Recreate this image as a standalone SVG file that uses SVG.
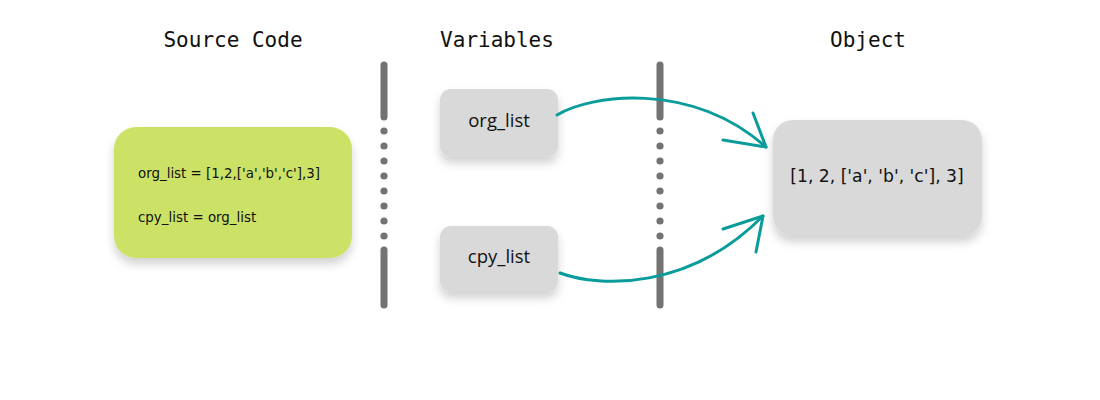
<svg xmlns="http://www.w3.org/2000/svg" width="1100" height="400" viewBox="0 0 1100 400">
<defs>
<filter id="sh" x="-20%" y="-20%" width="140%" height="160%">
<feDropShadow dx="0" dy="6" stdDeviation="5" flood-color="#000" flood-opacity="0.18"/>
</filter>
<style>
.hdr{font-family:"DejaVu Sans Mono","Liberation Mono",monospace;font-size:21px;fill:#111;text-anchor:middle}
.sep{stroke:#737373;stroke-width:7;stroke-linecap:round}
.dot{fill:#737373}
.gbox{fill:#d9d9d9}
.lbl{font-family:"Open Sans","Noto Sans",sans-serif;font-size:18.5px;fill:#111;text-anchor:middle}
.code{font-family:"DejaVu Sans","Noto Sans",sans-serif;font-size:13.4px;fill:#111}
.conn{fill:none;stroke:#0a9b9b;stroke-width:3;stroke-linecap:round;stroke-linejoin:round}
</style>
</defs>
<rect width="1100" height="400" fill="#fff"/>
<text class="hdr" x="233" y="47">Source Code</text>
<text class="hdr" x="497" y="47">Variables</text>
<text class="hdr" x="868" y="47">Object</text>

<g id="separator1">
<line class="sep" x1="384" y1="65" x2="384" y2="117"/>
<circle class="dot" cx="384" cy="131" r="3.6"/><circle class="dot" cx="384" cy="146" r="3.6"/><circle class="dot" cx="384" cy="161" r="3.6"/><circle class="dot" cx="384" cy="176" r="3.6"/><circle class="dot" cx="384" cy="191" r="3.6"/><circle class="dot" cx="384" cy="206" r="3.6"/><circle class="dot" cx="384" cy="221" r="3.6"/><circle class="dot" cx="384" cy="236" r="3.6"/>
<line class="sep" x1="384" y1="250" x2="384" y2="305"/>
</g>
<g id="separator2">
<line class="sep" x1="660" y1="65" x2="660" y2="117"/>
<circle class="dot" cx="660" cy="131" r="3.6"/><circle class="dot" cx="660" cy="146" r="3.6"/><circle class="dot" cx="660" cy="161" r="3.6"/><circle class="dot" cx="660" cy="176" r="3.6"/><circle class="dot" cx="660" cy="191" r="3.6"/><circle class="dot" cx="660" cy="206" r="3.6"/><circle class="dot" cx="660" cy="221" r="3.6"/><circle class="dot" cx="660" cy="236" r="3.6"/>
<line class="sep" x1="660" y1="250" x2="660" y2="305"/>
</g>

<g id="source">
<rect x="114" y="127" width="238" height="131" rx="22" fill="#cce266" filter="url(#sh)"/>
<text class="code" x="138" y="178">org_list = [1,2,['a','b','c'],3]</text>
<text class="code" x="138" y="222">cpy_list = org_list</text>
</g>

<g id="org_list">
<rect class="gbox" x="440" y="89" width="118" height="68" rx="11" filter="url(#sh)"/>
<text class="lbl" x="499" y="127">org_list</text>
</g>
<g id="cpy_list">
<rect class="gbox" x="440" y="226" width="118" height="66" rx="11" filter="url(#sh)"/>
<text class="lbl" x="499" y="263">cpy_list</text>
</g>

<g id="object">
<rect class="gbox" x="773" y="120" width="209" height="116" rx="20" filter="url(#sh)"/>
<text x="877" y="182" font-family="'DejaVu Sans','Noto Sans',sans-serif" font-size="17.2" fill="#111" text-anchor="middle">[1, 2, ['a', 'b', 'c'], 3]</text>
</g>

<g id="connectors">
<path class="conn" d="M557,115 C590,95 690,80 766,147"/>
<path class="conn" d="M753,113 L766,147 L723,140"/>
<path class="conn" d="M560,273 C600,288 690,290 763,216"/>
<path class="conn" d="M723,229 L763,216 L756,252"/>
</g>
</svg>
